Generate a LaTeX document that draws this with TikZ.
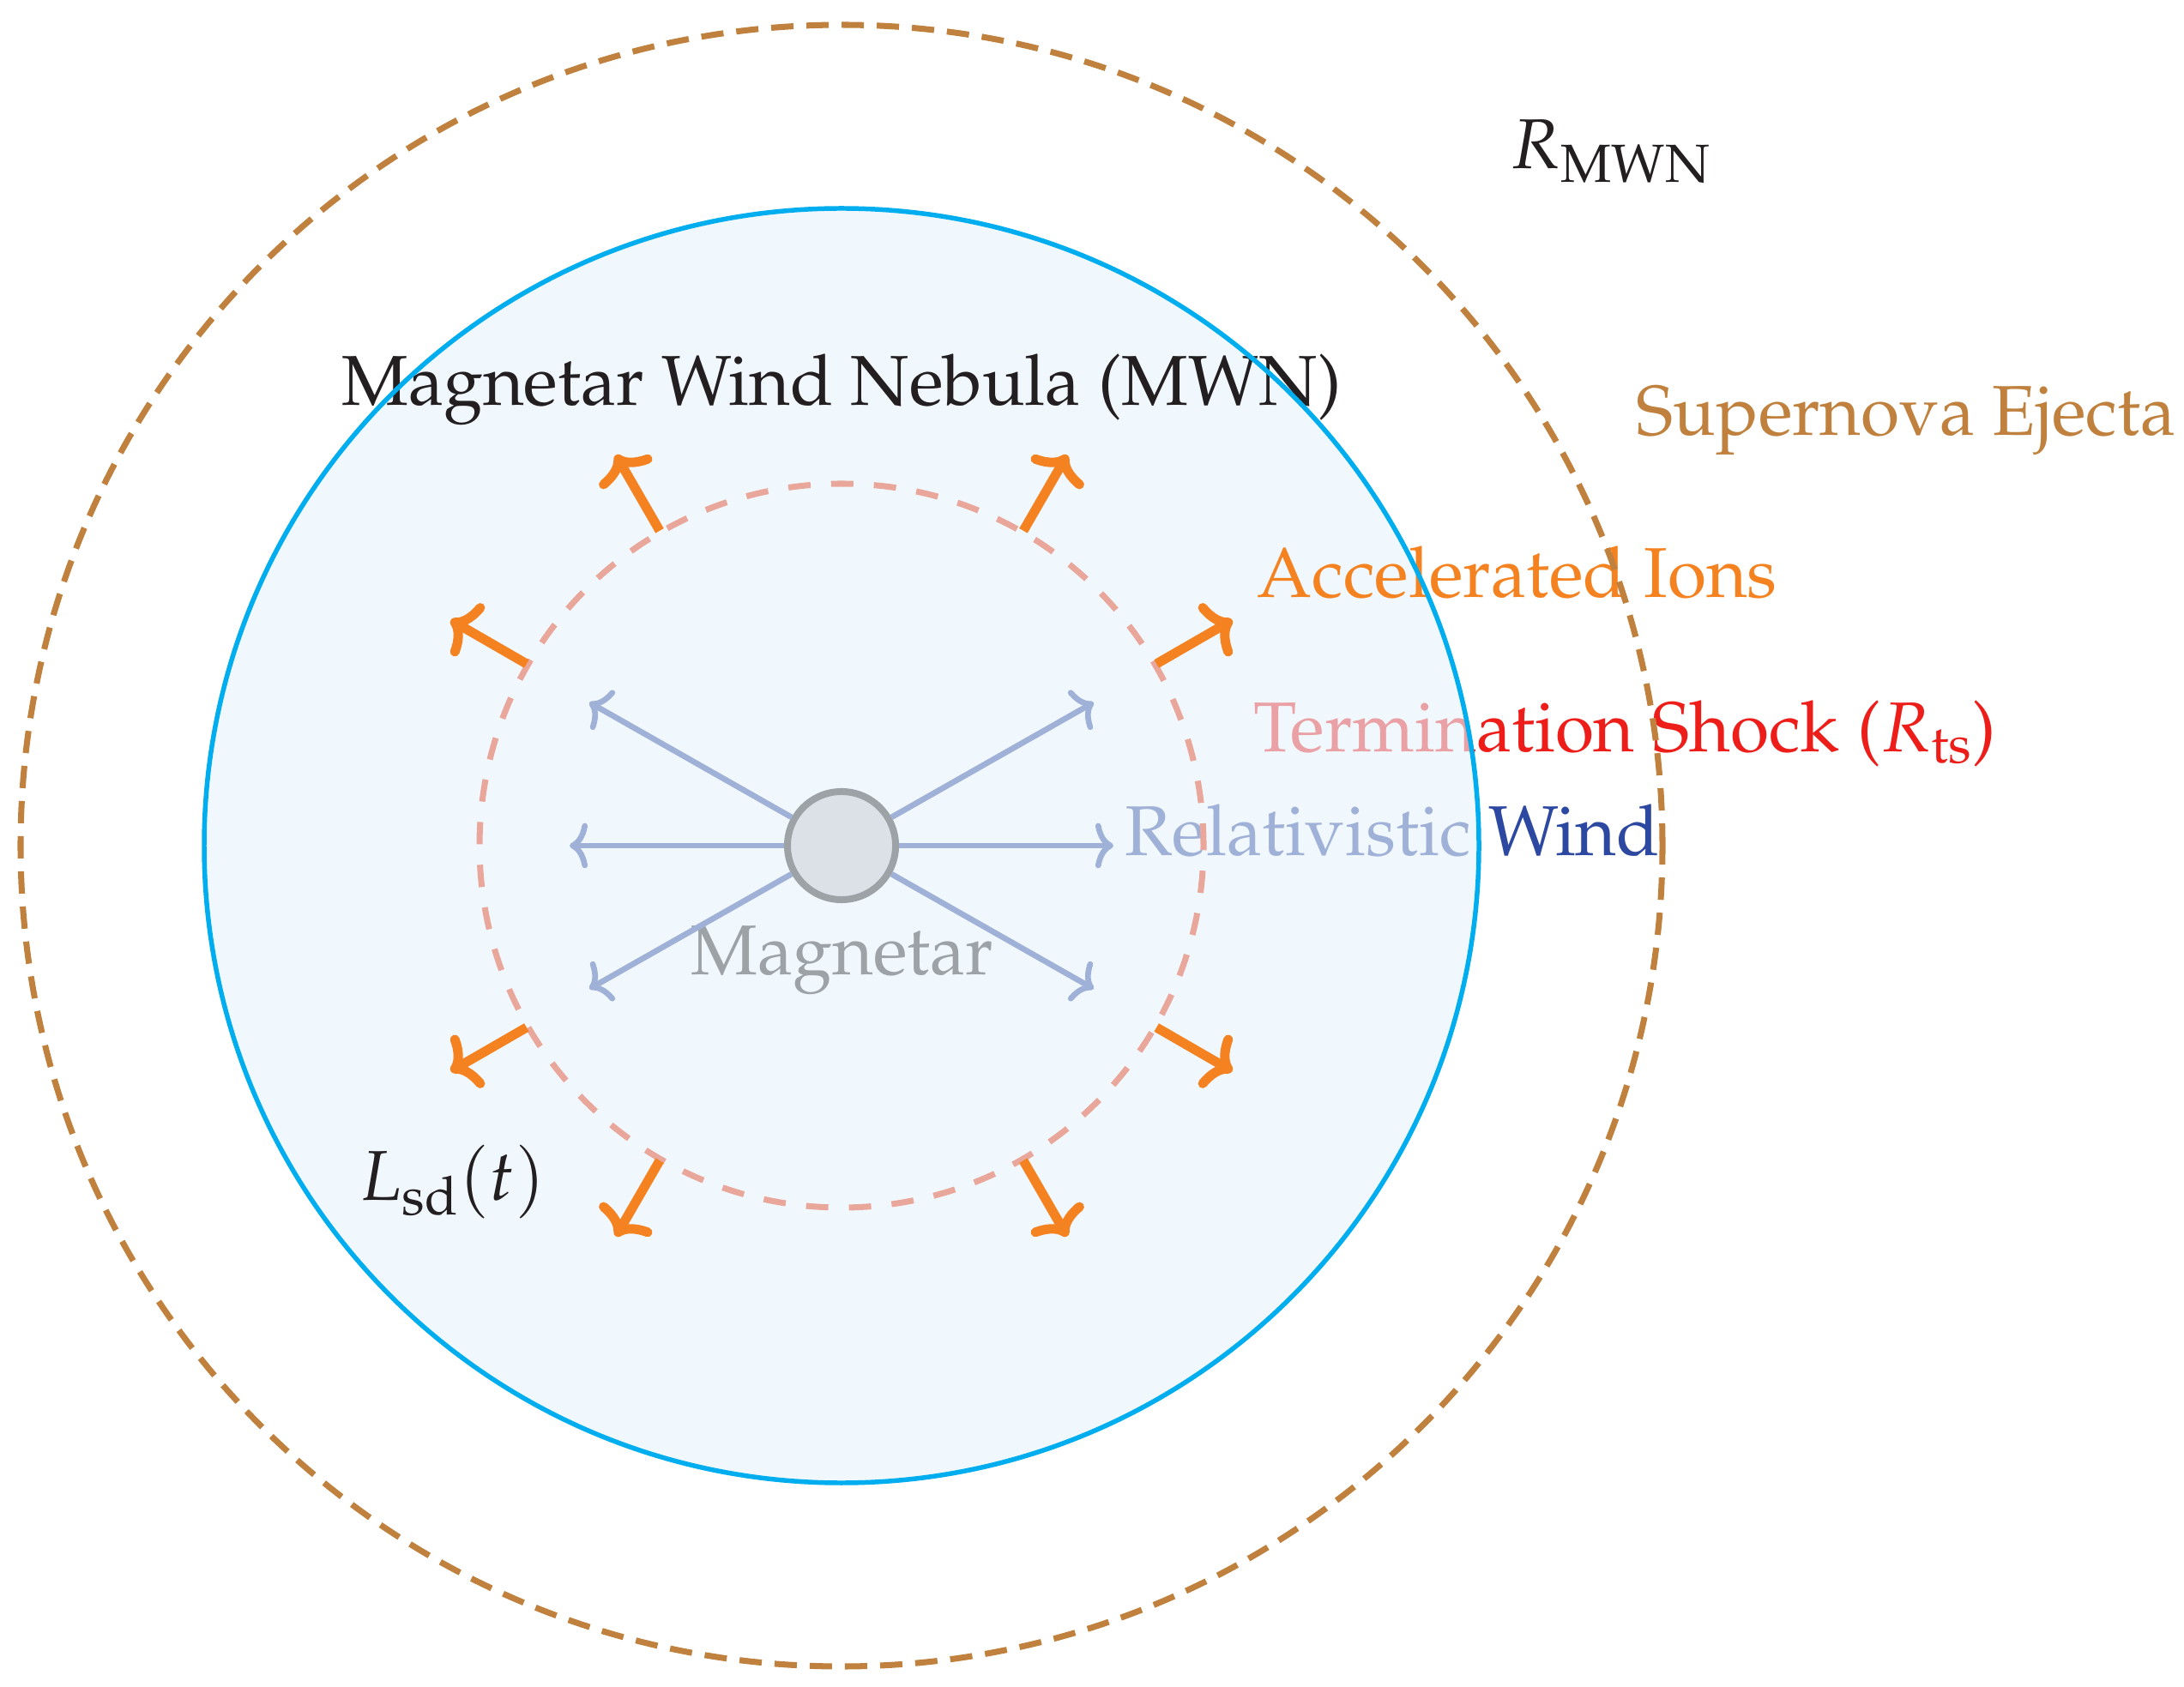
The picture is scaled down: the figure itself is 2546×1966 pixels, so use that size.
\documentclass[tikz,border=0pt]{standalone}
\usepackage[T1]{fontenc}
\usepackage{mathpazo}
\usetikzlibrary{arrows.meta}
\definecolor{ejecta}{RGB}{191,129,61}
\definecolor{neb}{RGB}{0,174,239}
\definecolor{veil}{RGB}{232,243,251}
\definecolor{ion}{RGB}{245,130,32}
\definecolor{shock}{RGB}{237,30,25}
\definecolor{shockring}{RGB}{237,45,0}
\definecolor{wind}{RGB}{45,72,160}
\definecolor{ink}{RGB}{35,31,32}
\begin{document}
\begin{tikzpicture}[x=0.01cm,y=0.01cm,
  lbl/.style={inner sep=0pt, font=\fontsize{23.4}{28}\selectfont},
  ejectaline/.style={draw=ejecta, line width=2pt, dash pattern=on 7.4pt off 4.27pt},
  shockline/.style={draw=shockring, line width=2pt, dash pattern=on 7.4pt off 6.8pt},
  windarrow/.style={draw=wind, line width=1.9pt,
    -{Computer Modern Rightarrow[length=6pt, width=15pt, line cap=round]}},
  ionarrow/.style={draw=ion, line width=3.13pt,
    -{Computer Modern Rightarrow[length=8pt, width=20pt, line cap=round]}},
  nebfill/.style={fill=veil, fill opacity=0.62},
  nebline/.style={draw=neb, line width=1.56pt}]
\useasboundingbox (0,0) rectangle (2546,1966);
\coordinate (C) at (981,980);
% under the nebula veil
\node[lbl, text=ink, anchor=base] (maglbl) at (982,829) {Magnetar};
\node[lbl, text=shock, anchor=base west] (tslbl) at (1461,1089) {Termination Shock ($R_{\mathrm{ts}}$)};
\node[lbl, text=wind, anchor=base west] (rwlbl) at (1311,968) {Relativistic Wind};
\draw[shockline] (C) circle (422);
\node[circle, draw=ink, fill=gray!45, line width=2.28pt, minimum size=1.26cm, inner sep=0pt] (mag) at (C) {};
\coordinate (wr) at (1298,980);
\coordinate (wl) at (664,980);
\coordinate (wur) at (1275,1147);
\coordinate (wul) at (687,1147);
\coordinate (wlr) at (1275,813);
\coordinate (wll) at (687,813);
\foreach \t in {wr,wl,wur,wul,wlr,wll} \draw[windarrow] (mag) -- (\t);
% veil
\fill[nebfill] (C) circle (743);
% above the veil
\foreach \a in {30,60,120,150,210,240,300,330} {
  \coordinate (is\a) at ([shift={(\a:424)}]C);
  \coordinate (ie\a) at ([shift={(\a:526)}]C);
  \draw[ionarrow] (is\a) -- (ie\a);
}
\node[lbl, text=ink, anchor=base] (title) at (981,1493) {Magnetar Wind Nebula (MWN)};
\node[lbl, text=ejecta, anchor=base west] (snlbl) at (1907,1458) {Supernova Ejecta};
\node[lbl, text=ion, anchor=base west] (ionlbl) at (1465,1269) {Accelerated Ions};
\node[lbl, text=ink, anchor=base west] (rmwn) at (1760,1769) {$R_{\mathrm{MWN}}$};
\node[lbl, text=ink, anchor=base west] (lsd) at (418,567) {$L_{\mathrm{sd}}(t)$};
\draw[nebline] (C) circle (743);
\draw[ejectaline] (C) circle (957);
\end{tikzpicture}
\end{document}
